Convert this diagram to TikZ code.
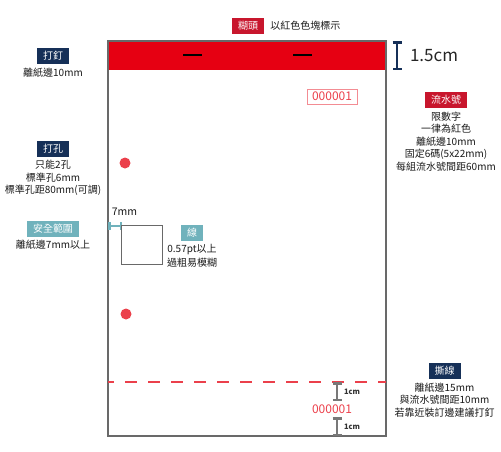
\documentclass[tikz,border=0pt]{standalone}
\usepackage{fontspec}
\setmainfont{Noto Sans CJK TC}
\usepackage{tikz}
\usetikzlibrary{arrows.meta, positioning}
\definecolor{headred}{RGB}{230, 0, 18}
\definecolor{tagred}{RGB}{200, 22, 45}
\definecolor{navy}{RGB}{22, 48, 88}
\definecolor{teal}{RGB}{112, 178, 188}
\definecolor{dotred}{RGB}{235, 64, 75}
\definecolor{paperline}{RGB}{105, 105, 105}
\definecolor{beamgray}{RGB}{120, 120, 120}
\tikzstyle{tag} = [rectangle, inner xsep=6pt, inner ysep=0pt, minimum height=16pt, text=white, font=\fontsize{10}{12}\selectfont]
\tikzstyle{note} = [inner sep=0pt, align=center, text=black!90, font=\fontsize{10}{12.5}\selectfont]
\tikzstyle{dot} = [circle, fill=dotred, minimum size=11pt, inner sep=0pt]
\tikzstyle{ibeam} = [line width=2.5pt, {Bar[width=9pt]}-{Bar[width=9pt]}]

\begin{document}
\begin{tikzpicture}[x=1pt, y=-1pt]
    \useasboundingbox (0,0) rectangle (501,451);

    % Paper
    \node[rectangle, fill=headred, minimum width=277pt, minimum height=28pt] (head) at (247,56) {};
    \node[rectangle, draw=paperline, line width=1.3pt, minimum width=278pt, minimum height=395pt] (paper) at (247,238.5) {};
    \draw[line width=2pt] (183,55) -- (202,55);
    \draw[line width=2pt] (293,55) -- (312,55);

    % Glue head
    \node[tag, fill=tagred] (gluetag) at (248,26) {糊頭};
    \node[note, right=6pt of gluetag] (gluenote) {以紅色色塊標示};
    \coordinate (hb1) at (397,41);
    \coordinate (hb2) at (397,70);
    \draw[ibeam, navy] (hb1) -- (hb2);
    \node[inner sep=0pt, font=\fontsize{17}{17}\selectfont, text=black!85] (headsize) at (434,56) {1.5cm};

    % Staple
    \node[tag, fill=navy] (staple) at (53,56) {打釘};
    \node[note, below=3.5pt of staple] (staplenote) {離紙邊10mm};

    % Punch holes
    \node[tag, fill=navy] (punch) at (53,148.5) {打孔};
    \node[note, below=3.5pt of punch] (punchnote) {只能2孔\\標準孔6mm\\標準孔距80mm(可調)};
    \node[dot] (hole1) at (125,163) {};
    \node[dot] (hole2) at (126,314) {};

    % Safety margin
    \node[tag, fill=teal] (safe) at (53,228.5) {安全範圍};
    \node[note, below=3.5pt of safe] (safenote) {離紙邊7mm以上};
    \coordinate (sb1) at (108,226);
    \coordinate (sb2) at (122,226);
    \draw[line width=2.5pt, teal, {Bar[width=8pt]}-{Bar[width=8pt]}] (sb1) -- (sb2);
    \node[note, font=\fontsize{10.5}{12}\selectfont] (safesize) at (124.5,212) {7mm};
    \node[rectangle, draw=paperline, line width=0.8pt, minimum width=41pt, minimum height=39pt] (sample) at (141.5,244.5) {};

    % Line weight
    \node[tag, fill=teal] (linetag) at (192,232.5) {線};
    \node[note, below=3.5pt of linetag, font=\fontsize{10}{14}\selectfont] (linenote) {0.57pt以上\\過粗易模糊};

    % Serial number
    \node[rectangle, draw=dotred!60, line width=0.8pt, text=dotred, inner sep=1.5pt, minimum width=50pt, minimum height=15pt, font=\fontsize{12}{12}\selectfont] (serialtop) at (332,96.5) {000001};
    \node[tag, fill=tagred] (serial) at (446,100) {流水號};
    \node[note, below=3.5pt of serial] (serialnote) {限數字\\一律為紅色\\離紙邊10mm\\固定6碼(5x22mm)\\每組流水號間距60mm};

    % Tear line
    \coordinate (tearL) at (108,382);
    \coordinate (tearR) at (386,382);
    \draw[dotred, line width=1.2pt, dash pattern=on 12pt off 11pt, dash phase=6pt] (tearL) -- (tearR);
    \node[tag, fill=navy] (tear) at (444.5,371) {撕線};
    \node[note, below=3.5pt of tear] (tearnote) {離紙邊15mm\\與流水號間距10mm\\若靠近裝訂邊建議打釘};
    \node[inner sep=0pt, text=dotred, font=\fontsize{12}{12}\selectfont] (serialbot) at (332,409) {000001};
    \coordinate (gb1) at (337,382);
    \coordinate (gb2) at (337,401);
    \coordinate (gb3) at (337,417);
    \coordinate (gb4) at (337,436);
    \draw[ibeam, beamgray] (gb1) -- (gb2);
    \draw[ibeam, beamgray] (gb3) -- (gb4);
    \node[inner sep=0pt, font=\bfseries\fontsize{7.5}{8}\selectfont, text=black!80] (gap1) at (352,392) {1cm};
    \node[inner sep=0pt, font=\bfseries\fontsize{7.5}{8}\selectfont, text=black!80] (gap2) at (352,427) {1cm};
\end{tikzpicture}
\end{document}
